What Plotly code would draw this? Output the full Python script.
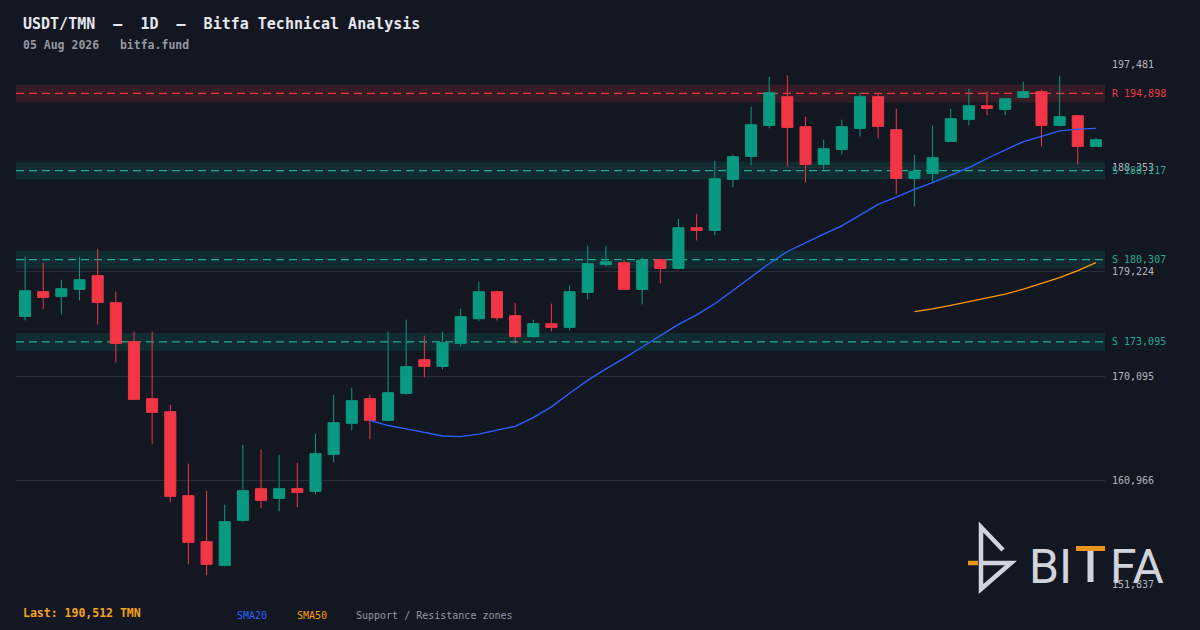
import pandas as pd
import plotly.graph_objects as go

# daily candles, USDT/TMN
opens = [175328, 177496, 177083, 177698, 178900, 176530, 173107, 168104, 166963, 159591,
         155553, 153473, 157423, 160205, 159354, 160205, 159968, 163216, 165937, 168104,
         166200, 168570, 171527, 170939, 172958, 175126, 177496, 175389, 173546, 174687,
         174362, 177434, 179892, 180041, 177698, 180304, 179541, 183113, 182876, 187352,
         189371, 192092, 194611, 191978, 188669, 189985, 191829, 194611, 191715, 187440,
         187879, 190688, 192619, 193821, 193496, 194550, 195050, 192092, 192943, 190249]
highs = [180568, 180041, 178549, 180568, 181270, 177496, 173985, 173985, 167578, 162399,
         160030, 158801, 164067, 163628, 163189, 162487, 165032, 168455, 169070, 168455,
         173985, 175038, 173634, 173985, 176004, 178374, 177580, 176530, 175038, 176443,
         178022, 181533, 181533, 180304, 180480, 180392, 183903, 184342, 188994, 189520,
         193733, 196366, 196498, 192856, 190837, 192592, 194962, 194962, 193558, 189520,
         192066, 193558, 195313, 195050, 194480, 195928, 195225, 196454, 193031, 191012]
lows = [174977, 175942, 175503, 176732, 174626, 171290, 167990, 164093, 159003, 153561,
        152600, 153385, 157247, 158476, 158213, 158564, 159705, 162513, 165322, 164532,
        166112, 168455, 169974, 170676, 172695, 174889, 174977, 172958, 173485, 174011,
        174099, 176820, 179716, 177650, 176381, 178224, 179453, 181998, 182437, 186650,
        188581, 191829, 188493, 187089, 188230, 189547, 191126, 190951, 186036, 184983,
        187001, 190640, 192092, 192970, 192970, 194462, 190249, 192004, 188669, 190200]
closes = [177584, 176996, 177759, 178549, 176557, 172958, 168043, 166902, 159529, 155492,
          153561, 157309, 160030, 159178, 160205, 159880, 163277, 165998, 167929, 166200,
          168631, 170913, 170939, 173020, 175302, 177496, 175214, 173546, 174687, 174362,
          177496, 179953, 180129, 177698, 180260, 179541, 183113, 182876, 187414, 189345,
          192153, 194962, 191916, 188669, 190047, 191978, 194611, 192004, 187440, 188055,
          189257, 192680, 193821, 193584, 194435, 195050, 192092, 192856, 190249, 190837]

last_date = "2026-08-05"
last_price = 190512

y_ticks = [151837, 160966, 170095, 179224, 188353, 197481]

resistance = [194898]
supports = [188117, 180307, 173095]
ZONE_PAD = 780

BG = "#131722"
GREEN = "#089981"
RED = "#f23645"
TEAL = "#22ab94"
MONO = "DejaVu Sans Mono"

df = pd.DataFrame({"open": opens, "high": highs, "low": lows, "close": closes},
                  index=pd.date_range(end=last_date, periods=len(closes), freq="D"))
df["sma20"] = df["close"].rolling(20).mean()
df["sma50"] = df["close"].rolling(50).mean()

# plot area in pixels, used only to place decorations
PL, PR, PT, PB = 16, 1105, 64, 584


def fx(x):
    return (x - PL) / (PR - PL)


def fy(y):
    return (PB - y) / (PB - PT)


fig = go.Figure()
fig.add_trace(go.Candlestick(
    x=df.index, open=df["open"], high=df["high"], low=df["low"], close=df["close"],
    increasing=dict(line=dict(color=GREEN, width=1), fillcolor=GREEN),
    decreasing=dict(line=dict(color=RED, width=1), fillcolor=RED),
    showlegend=False,
))
fig.add_trace(go.Scatter(x=df.index, y=df["sma20"], mode="lines",
                         line=dict(color="#2962ff", width=1.3), showlegend=False))
fig.add_trace(go.Scatter(x=df.index, y=df["sma50"], mode="lines",
                         line=dict(color="#ff9800", width=1.3), showlegend=False))

shapes = []
annotations = []
zones = [("R", lvl, RED, "rgba(242,54,69,0.16)") for lvl in resistance] + \
        [("S", lvl, TEAL, "rgba(8,153,129,0.16)") for lvl in supports]
for kind, lvl, col, fill in zones:
    shapes.append(dict(type="rect", xref="paper", yref="y", x0=0, x1=1,
                       y0=lvl - ZONE_PAD, y1=lvl + ZONE_PAD,
                       fillcolor=fill, line=dict(width=0), layer="below"))
    shapes.append(dict(type="line", xref="paper", yref="y", x0=0, x1=1, y0=lvl, y1=lvl,
                       line=dict(color=col, width=1.3, dash="8px,5px"), layer="below"))
    annotations.append(dict(xref="paper", yref="y", x=fx(1110), y=lvl, xanchor="left",
                            yanchor="middle", showarrow=False,
                            text=f"{kind} {lvl:,}", font=dict(family=MONO, size=10, color=col)))

# header
annotations.append(dict(xref="paper", yref="paper", x=fx(21), y=fy(24), xanchor="left",
                        yanchor="middle", showarrow=False,
                        text="USDT/TMN  \u2013  1D  \u2013  Bitfa Technical Analysis",
                        font=dict(family=MONO, size=15, color="#e6e8ee", weight="bold")))
annotations.append(dict(xref="paper", yref="paper", x=fx(21), y=fy(45), xanchor="left",
                        yanchor="middle", showarrow=False,
                        text="05 Aug 2026   bitfa.fund",
                        font=dict(family=MONO, size=11.5, color="#9598a1", weight="bold")))

# footer
annotations.append(dict(xref="paper", yref="paper", x=fx(21), y=fy(613), xanchor="left",
                        yanchor="middle", showarrow=False,
                        text=f"Last: {last_price:,} TMN",
                        font=dict(family=MONO, size=11.5, color="#f7a21b", weight="bold")))
for label, xp, col in [("SMA20", 235, "#2962ff"), ("SMA50", 295, "#ff9800"),
                       ("Support / Resistance zones", 354, "#9598a1")]:
    annotations.append(dict(xref="paper", yref="paper", x=fx(xp), y=fy(615), xanchor="left",
                            yanchor="middle", showarrow=False, text=label,
                            font=dict(family=MONO, size=10, color=col)))

# logo
LOGO = "#d1d4dc"
ORANGE = "#e8951e"
icon = f"M {fx(1003)},{fy(550)} L {fx(981)},{fy(527)} L {fx(981)},{fy(589)} " \
       f"L {fx(1011)},{fy(563)} L {fx(981)},{fy(563)}"
shapes.append(dict(type="path", xref="paper", yref="paper", path=icon,
                   line=dict(color=LOGO, width=4.5), layer="above"))
shapes.append(dict(type="line", xref="paper", yref="paper", x0=fx(968), x1=fx(978),
                   y0=fy(563), y1=fy(563), line=dict(color=ORANGE, width=4.5), layer="above"))
shapes.append(dict(type="rect", xref="paper", yref="paper", x0=fx(1076), x1=fx(1105),
                   y0=fy(546), y1=fy(551), fillcolor=ORANGE, line=dict(width=0), layer="above"))
shapes.append(dict(type="rect", xref="paper", yref="paper", x0=fx(1087.5), x1=fx(1093.5),
                   y0=fy(551), y1=fy(582), fillcolor=LOGO, line=dict(width=0), layer="above"))
annotations.append(dict(xref="paper", yref="paper", x=fx(1074), y=fy(566), xanchor="right",
                        yanchor="middle", showarrow=False, text="BI",
                        font=dict(family="Roboto", size=48, color=LOGO)))
annotations.append(dict(xref="paper", yref="paper", x=fx(1108), y=fy(566), xanchor="left",
                        yanchor="middle", showarrow=False, text="FA",
                        font=dict(family="Roboto", size=48, color=LOGO)))

half_day = pd.Timedelta(hours=12)
fig.update_layout(
    width=1200, height=630,
    paper_bgcolor=BG, plot_bgcolor=BG,
    margin=dict(l=PL, r=1200 - PR, t=PT, b=630 - PB),
    boxgap=0.39, boxgroupgap=0,
    shapes=shapes, annotations=annotations,
    showlegend=False,
    xaxis=dict(range=[df.index[0] - half_day, df.index[-1] + half_day], visible=False,
               rangeslider=dict(visible=False)),
    yaxis=dict(side="right", range=[y_ticks[0], y_ticks[-1]], tickvals=y_ticks,
               ticktext=[f"{v:,}" for v in y_ticks], showgrid=True, gridcolor="#2a2e39",
               gridwidth=1, zeroline=False, showline=False, ticks="", ticklabelstandoff=6,
               tickfont=dict(family=MONO, size=10, color="#b2b5be")),
)

# drop the default page margin so the figure sits at the window's corner
fig.write_html("out.html", config={"displayModeBar": False},
               post_script="document.body.style.margin='0';"
                           "document.body.style.background='" + BG + "';")
